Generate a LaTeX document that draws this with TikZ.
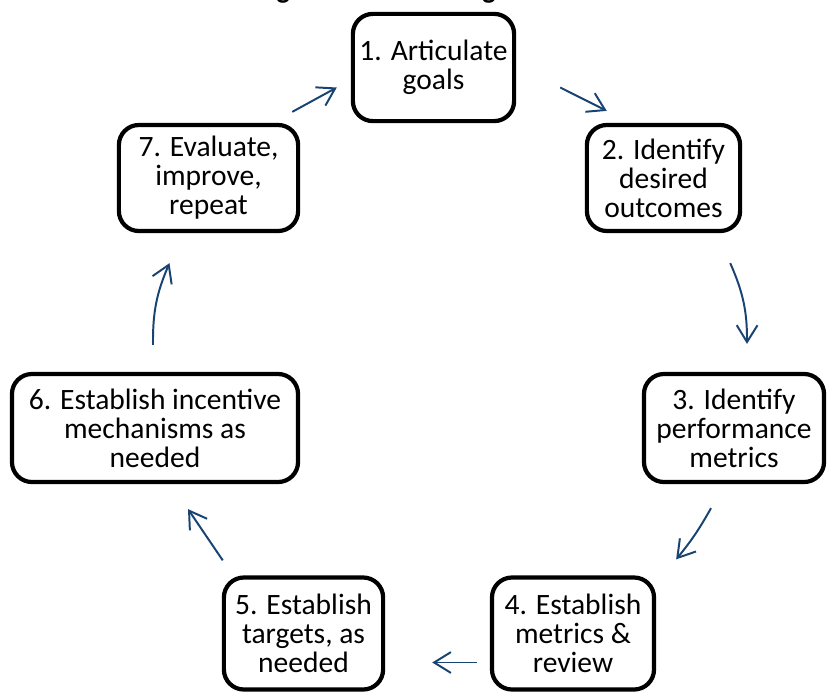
\documentclass[tikz,border=0pt]{standalone}
\usepackage{fontspec}
\setmainfont{Carlito}
\usetikzlibrary{arrows.meta,calc}
\definecolor{flowblue}{RGB}{24,67,115}
\begin{document}
\begin{tikzpicture}[x=0.025cm,y=-0.025cm,
    stepbox/.style={draw,line width=3pt,rounded corners=0.5cm,align=center,
      inner sep=0pt,minimum height=2.7cm,font=\fontsize{21}{20.6}\selectfont},
    flow/.style={draw=flowblue,line width=1.4pt,
      -{Straight Barb[length=0.42cm,width=0.52cm]}}]
    \useasboundingbox (0,0) rectangle (827,692);
    % title, cut off by the top edge
    \node[anchor=base,font=\bfseries\fontsize{20}{24}\selectfont] (title) at (431,-1.5) {Figure 1: PIMS Design Process};
    % the seven steps
    \node[stepbox,minimum width=4.03cm,minimum height=2.68cm] (n1) at (433.5,67.5) {1. Articulate\\goals};
    \node[stepbox,minimum width=3.83cm,minimum height=2.65cm] (n2) at (663.5,178) {2. Identify\\desired\\outcomes};
    \node[stepbox,minimum width=4.5cm] (n3) at (734,428) {3. Identify\\performance\\metrics};
    \node[stepbox,minimum width=4.05cm,minimum height=2.8cm] (n4) at (573,633.5) {4. Establish\\metrics \&\\review};
    \node[stepbox,minimum width=3.98cm,minimum height=2.8cm] (n5) at (303.5,633.5) {5. Establish\\targets, as\\needed};
    \node[stepbox,minimum width=7.15cm] (n6) at (155,428) {6. Establish incentive\\mechanisms as\\needed};
    \node[stepbox,minimum width=4.48cm,minimum height=2.65cm] (n7) at (208.5,178) {7. Evaluate,\\improve,\\repeat};
    % arrows round the cycle
    \draw[flow] ($(n7.north east)+(-8,-11)$) -- ($(n1.west)+(-14,20)$);
    \draw[flow] ($(n1.east)+(44,20)$) -- ($(n2.north west)+(22,-12)$);
    \draw[flow] ($(n2.south east)+(-12,30)$) to[bend left=12] ($(n3.north)+(13,-28)$);
    \draw[flow] ($(n3.south)+(-23,24)$) to[bend left=5] ($(n4.north east)+(20,-16)$);
    \draw[flow] ($(n4.west)+(-13,29)$) -- ($(n5.east)+(47,29)$);
    \draw[flow] ($(n5.north west)+(1,-15)$) -- ($(n6.south)+(33,25)$);
    \draw[flow] ($(n6.north)+(-2,-27)$) to[bend left=12] ($(n7.south)+(-39,30)$);
\end{tikzpicture}
\end{document}
